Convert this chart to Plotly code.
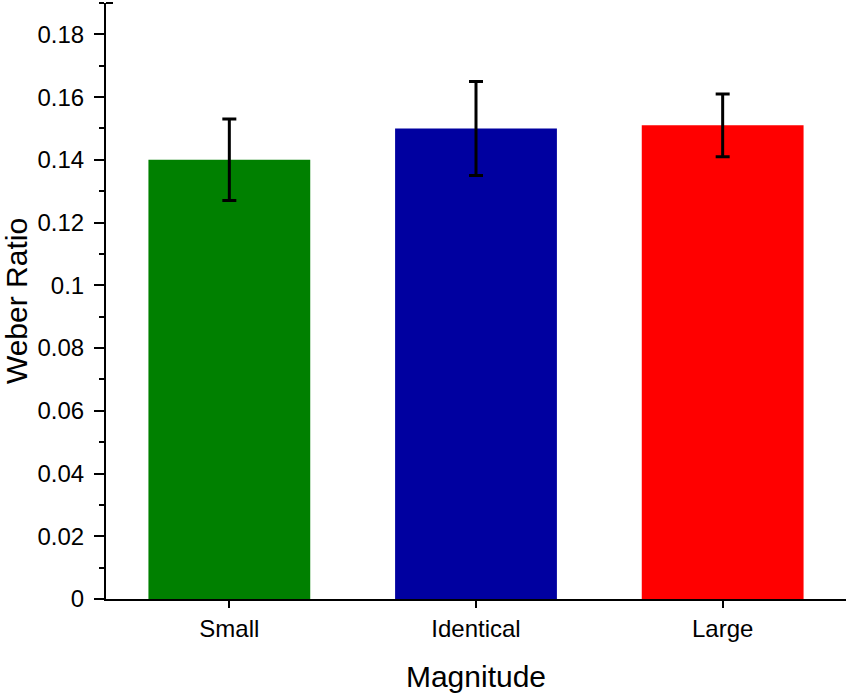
import plotly.graph_objects as go

categories = ["Small", "Identical", "Large"]
values = [0.140, 0.150, 0.151]
errors = [0.013, 0.015, 0.010]
colors = ["#008000", "#0000A0", "#FF0000"]
ytick_vals = [0, 0.02, 0.04, 0.06, 0.08, 0.1, 0.12, 0.14, 0.16, 0.18]
ytick_text = ["0", "0.02", "0.04", "0.06", "0.08", "0.1", "0.12", "0.14", "0.16", "0.18"]

fig = go.Figure()
fig.add_trace(go.Bar(
    x=categories, y=values,
    marker=dict(color=colors, line=dict(width=0)),
    width=0.656,
    error_y=dict(type="data", array=errors, visible=True, color="black", thickness=3, width=7),
))

font = "Liberation Sans, Arial, sans-serif"
fig.update_layout(
    width=850, height=695,
    margin=dict(l=106, r=4, t=3, b=96),
    paper_bgcolor="white", plot_bgcolor="white",
    showlegend=False,
    font=dict(family=font, color="black", size=24),
    xaxis=dict(
        range=[-0.5, 2.5], showline=True, linecolor="black", linewidth=2,
        ticks="outside", ticklen=7, tickwidth=2, tickcolor="black",
        tickfont=dict(size=24), showgrid=False, zeroline=False,
        title=dict(text="Magnitude", font=dict(size=30), standoff=25),
    ),
    yaxis=dict(
        range=[0, 0.19], showline=True, linecolor="black", linewidth=2,
        tickvals=ytick_vals, ticktext=ytick_text,
        ticks="outside", ticklen=10, tickwidth=2, tickcolor="black",
        ticklabelstandoff=5,
        minor=dict(dtick=0.01, ticks="outside", ticklen=5, tickwidth=2, tickcolor="black", showgrid=False),
        tickfont=dict(size=24), showgrid=False, zeroline=False,
        title=dict(text="Weber Ratio", font=dict(size=30), standoff=8),
    ),
)

# axis end caps (Origin style)
fig.add_shape(type="line", xref="x domain", yref="y", xsizemode="pixel", ysizemode="pixel",
              xanchor=0, yanchor=0, x0=0, x1=0, y0=0, y1=-7, line=dict(color="black", width=2))
fig.add_shape(type="line", xref="x domain", yref="y", xsizemode="pixel", ysizemode="pixel",
              xanchor=1, yanchor=0, x0=0, x1=0, y0=0, y1=-7, line=dict(color="black", width=2))
fig.add_shape(type="line", xref="x domain", yref="y domain", xsizemode="pixel", ysizemode="pixel",
              xanchor=0, yanchor=1, x0=0, x1=7, y0=0, y1=0, line=dict(color="black", width=2))

fig.write_html("out.html", config={"displayModeBar": False},
               post_script="document.body.style.margin='0';")
